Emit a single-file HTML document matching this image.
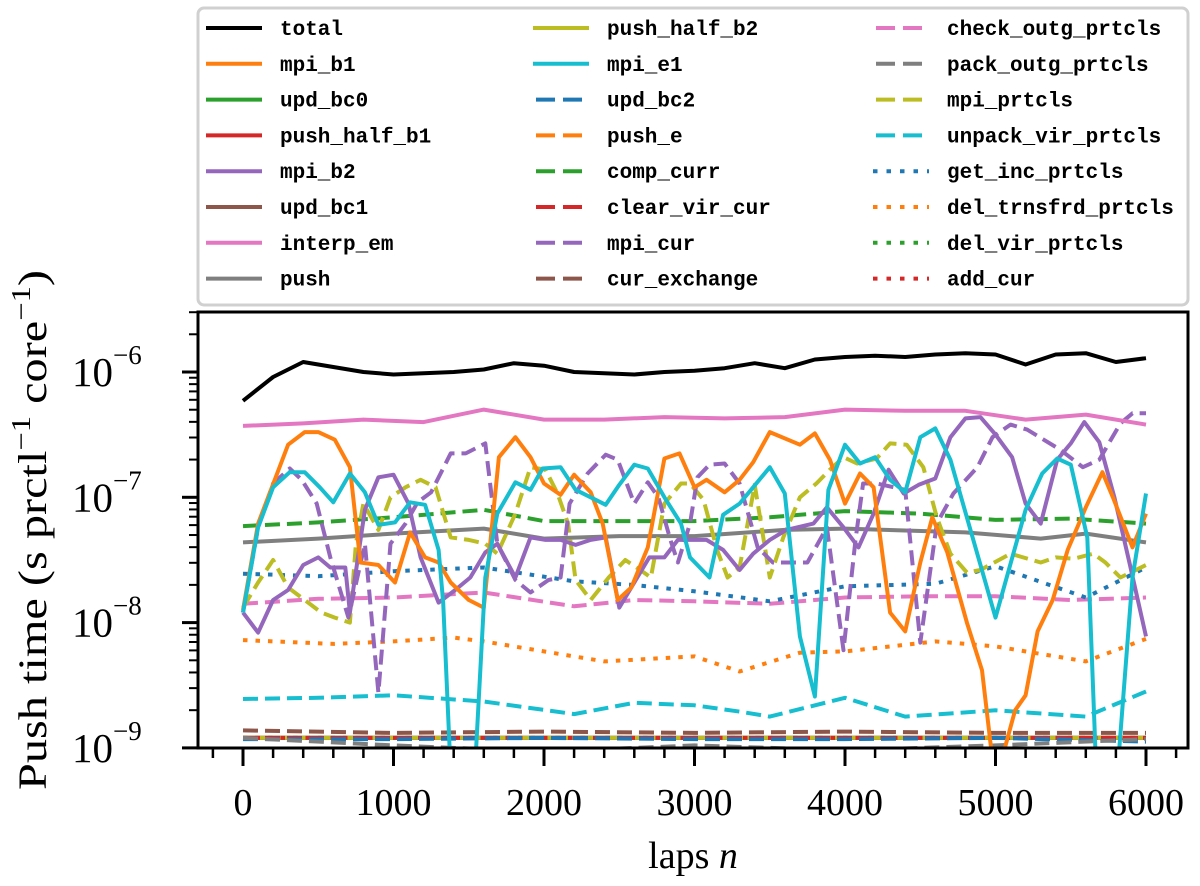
<!DOCTYPE html>
<html><head><meta charset="utf-8"><style>
html,body{margin:0;padding:0;background:#fff;}
svg text{font-family:"Liberation Serif",serif;}
.mono{font-family:"Liberation Mono",monospace;font-weight:bold;font-size:21px;}
</style></head><body>
<svg id="chart" width="1200" height="881" viewBox="0 0 1200 881" xmlns="http://www.w3.org/2000/svg">
<defs><clipPath id="plotclip"><rect x="198" y="312" width="990" height="436"/></clipPath></defs>
<g id="legend"></g>
<g id="series" clip-path="url(#plotclip)"></g>
<rect x="198" y="312" width="990" height="436" fill="none" stroke="#000" stroke-width="3"/>
<g id="axes"></g>
<text x="693" y="868" font-size="38" text-anchor="middle">laps <tspan font-style="italic">n</tspan></text>
<text transform="translate(46,530) rotate(-90)" font-size="40" text-anchor="middle" textLength="520" lengthAdjust="spacingAndGlyphs">Push time (s prctl<tspan dy="-16" font-size="27">−1</tspan><tspan dy="16"> core</tspan><tspan dy="-16" font-size="27">−1</tspan><tspan dy="16">)</tspan></text>
</svg>
<script>
// ---- data (log10 of push time) ----
const xTicks = [0,1000,2000,3000,4000,5000,6000];
const yTicks = [-9,-8,-7,-6];
const totalLaps = [0,200,400,600,800,1000,1200,1400,1600,1800,2000,2200,2400,2600,2800,3000,3200,3400,3600,3800,4000,4200,4400,4600,4800,5000,5200,5400,5600,5800,6000];
const totalVals = [-6.23,-6.04,-5.92,-5.96,-6.0,-6.02,-6.01,-6.0,-5.98,-5.93,-5.95,-6.0,-6.01,-6.02,-6.0,-5.99,-5.97,-5.93,-5.97,-5.9,-5.88,-5.87,-5.88,-5.86,-5.85,-5.86,-5.94,-5.86,-5.85,-5.92,-5.89];
const interpLaps = [0,400,800,1200,1600,2000,2400,2800,3200,3600,4000,4400,4800,5200,5600,6000];
const interpVals = [-6.43,-6.41,-6.38,-6.4,-6.3,-6.38,-6.38,-6.36,-6.37,-6.36,-6.3,-6.31,-6.31,-6.38,-6.34,-6.42];
const pushLaps = [0,500,1000,1600,2000,2500,3000,3600,4000,4800,5300,5600,6000];
const pushVals = [-7.36,-7.33,-7.29,-7.25,-7.33,-7.31,-7.31,-7.26,-7.25,-7.28,-7.33,-7.29,-7.36];
const compLaps = [0,500,1000,1600,2000,2500,3000,3500,4000,4500,5000,5500,6000];
const compVals = [-7.23,-7.2,-7.16,-7.1,-7.19,-7.19,-7.19,-7.16,-7.11,-7.13,-7.18,-7.17,-7.21];
const checkLaps = [0,500,1000,1600,2200,2600,3000,3500,4000,4500,5000,5500,6000];
const checkVals = [-7.85,-7.81,-7.8,-7.76,-7.87,-7.82,-7.83,-7.85,-7.8,-7.79,-7.79,-7.82,-7.8];
const getIncLaps = [0,500,1000,1600,2200,2600,3000,3500,4000,4600,5000,5600,6000];
const getIncVals = [-7.61,-7.63,-7.59,-7.56,-7.67,-7.7,-7.75,-7.83,-7.71,-7.69,-7.55,-7.8,-7.56];
const delTrLaps = [0,600,1000,1400,1600,2000,2400,3000,3300,3700,4000,4600,5000,5600,6000];
const delTrVals = [-8.14,-8.17,-8.15,-8.12,-8.15,-8.23,-8.31,-8.27,-8.39,-8.24,-8.23,-8.15,-8.19,-8.31,-8.13];
const unpackLaps = [0,500,1000,1600,2200,2600,3000,3300,3500,4000,4400,5000,5600,6000];
const unpackVals = [-8.61,-8.6,-8.58,-8.63,-8.73,-8.64,-8.66,-8.71,-8.75,-8.6,-8.75,-8.7,-8.75,-8.55];
const mpiB1Laps = [0,100,300,410,500,610,710,780,900,1010,1110,1210,1300,1380,1500,1600,1700,1810,1910,2000,2110,2200,2310,2390,2490,2580,2690,2800,2900,3000,3080,3200,3300,3390,3500,3700,3800,3900,4000,4100,4190,4300,4400,4500,4580,4680,4810,4910,4980,5040,5130,5200,5280,5380,5480,5600,5710,5780,5910,6000];
const mpiB1Vals = [-7.9,-7.21,-6.58,-6.48,-6.48,-6.54,-6.76,-7.52,-7.54,-7.68,-7.28,-7.48,-7.52,-7.68,-7.82,-7.88,-6.68,-6.52,-6.68,-6.89,-6.98,-6.82,-6.96,-7.21,-7.82,-7.72,-7.4,-6.69,-6.65,-6.92,-6.86,-6.96,-6.86,-6.72,-6.48,-6.58,-6.49,-6.7,-7.05,-6.81,-6.92,-7.92,-8.07,-7.52,-7.16,-7.44,-8.0,-8.38,-9.1,-9.1,-8.7,-8.58,-8.07,-7.82,-7.42,-7.08,-6.8,-7.0,-7.4,-7.13];
const mpiE1Laps = [0,100,200,310,410,510,600,710,810,900,1010,1110,1210,1300,1330,1380,1540,1610,1690,1810,1910,1990,2110,2210,2410,2500,2600,2690,2800,2910,2970,3100,3190,3300,3500,3600,3700,3800,3890,4000,4100,4200,4300,4400,4500,4600,4700,5000,5200,5310,5410,5500,5610,5670,5810,5910,6000];
const mpiE1Vals = [-7.92,-7.24,-6.92,-6.8,-6.8,-6.92,-7.04,-6.81,-6.96,-7.22,-7.2,-7.04,-7.06,-7.42,-7.84,-9.2,-9.2,-7.64,-7.13,-6.88,-6.94,-6.77,-6.76,-6.94,-7.06,-6.9,-6.74,-6.77,-7.0,-7.21,-7.48,-7.64,-7.14,-7.05,-6.76,-6.97,-8.11,-8.59,-6.94,-6.58,-6.73,-6.68,-6.86,-6.96,-6.52,-6.45,-6.7,-7.96,-7.1,-6.81,-6.69,-6.74,-7.32,-9.2,-9.2,-7.64,-6.97];
const mpiB2Laps = [0,100,200,300,400,500,580,680,710,810,900,1000,1100,1180,1300,1410,1510,1610,1690,1810,1910,2010,2110,2210,2310,2410,2500,2600,2700,2800,2890,2980,3080,3190,3300,3390,3500,3610,3790,3880,3990,4090,4190,4290,4390,4490,4600,4700,4800,4900,5000,5110,5200,5300,5410,5500,5590,5690,5790,5890,6000];
const mpiB2Vals = [-7.92,-8.08,-7.82,-7.74,-7.54,-7.48,-7.56,-7.56,-7.92,-7.1,-6.84,-6.82,-7.05,-7.48,-7.84,-7.74,-7.64,-7.44,-7.37,-7.64,-7.32,-7.34,-7.34,-7.38,-7.34,-7.32,-7.88,-7.68,-7.48,-7.48,-7.34,-7.34,-7.34,-7.42,-7.58,-7.45,-7.34,-7.26,-7.21,-7.08,-7.24,-7.4,-7.13,-6.78,-6.97,-6.9,-6.85,-6.52,-6.37,-6.36,-6.5,-6.68,-7.05,-7.21,-6.7,-6.57,-6.4,-6.56,-7.0,-7.52,-8.11];
const mpiCurLaps = [0,100,200,310,390,490,580,700,810,900,980,1080,1160,1250,1380,1480,1610,1690,1810,1910,2030,2110,2170,2290,2410,2490,2600,2690,2760,2840,2890,2970,3020,3100,3200,3300,3420,3520,3630,3750,3880,3990,4070,4120,4210,4400,4500,4610,4720,4880,4980,5100,5210,5320,5430,5580,5690,5830,5910,6000];
const mpiCurVals = [-7.92,-7.24,-6.89,-6.77,-6.86,-7.05,-7.48,-7.96,-7.37,-8.56,-7.37,-7.21,-7.04,-6.96,-6.65,-6.65,-6.57,-7.37,-7.66,-7.76,-7.66,-7.64,-7.05,-6.81,-6.66,-6.7,-7.05,-6.88,-7.0,-7.34,-7.52,-7.21,-6.84,-6.74,-6.73,-6.89,-7.4,-7.52,-7.52,-7.52,-7.24,-8.22,-7.34,-6.89,-6.89,-6.94,-8.16,-7.21,-6.97,-6.76,-6.52,-6.42,-6.46,-6.54,-6.62,-6.76,-6.7,-6.41,-6.33,-6.33];
const mpiPrLaps = [0,100,200,300,410,520,610,710,750,800,900,980,1080,1180,1280,1380,1500,1610,1690,1810,1910,2010,2090,2160,2210,2310,2430,2540,2640,2710,2800,2910,2970,3060,3150,3220,3300,3400,3500,3590,3700,3810,3900,3990,4080,4210,4300,4410,4520,4610,4700,4810,4900,5100,5300,5400,5520,5650,5730,5830,6000];
const mpiPrVals = [-7.88,-7.68,-7.5,-7.72,-7.82,-7.92,-7.96,-8.0,-7.37,-7.05,-7.26,-7.0,-6.92,-6.86,-6.92,-7.32,-7.34,-7.37,-7.45,-7.13,-6.76,-6.78,-6.97,-7.21,-7.66,-7.82,-7.64,-7.5,-7.58,-7.64,-7.05,-6.89,-6.89,-7.02,-7.42,-7.64,-7.56,-6.9,-7.64,-7.32,-7.0,-6.89,-6.78,-6.68,-6.73,-6.69,-6.57,-6.58,-6.76,-7.16,-7.45,-7.6,-7.58,-7.45,-7.52,-7.48,-7.49,-7.45,-7.52,-7.64,-7.54];
const lowLaps = [0,1000,2000,3000,4000,5000,6000];
const curExVals = [-8.86,-8.88,-8.87,-8.88,-8.87,-8.88,-8.88];
const updBc2Vals = [-8.93,-8.93,-8.92,-8.93,-8.93,-8.92,-8.95];
const packVals = [-8.92,-8.98,-9.03,-8.98,-9.02,-8.98,-8.93];
const flatVals = [-8.92,-8.92,-8.92,-8.92,-8.92,-8.92,-8.92];

// ---- axes functions ----
const X0=243, XPX=(1146-243)/6000, Y6=372, DEC=125.3;
const sx = l => X0 + l*XPX;
const sy = e => Y6 - (e+6)*DEC;
const NS="http://www.w3.org/2000/svg";
function mk(tag, attrs, parent){const el=document.createElementNS(NS,tag);for(const k in attrs)el.setAttribute(k,attrs[k]);parent.appendChild(el);return el;}

const C={blue:"#1f77b4",orange:"#ff7f0e",green:"#2ca02c",red:"#d62728",purple:"#9467bd",brown:"#8c564b",pink:"#e377c2",gray:"#7f7f7f",olive:"#bcbd22",cyan:"#17becf"};
const DASH="15,7", DOT="4.5,8";
const seriesDefs = [
 ["upd_bc0",lowLaps,flatVals,C.green,null],
 ["upd_bc1",lowLaps,flatVals,C.brown,null],
 ["push_half_b1",lowLaps,flatVals,C.red,null],
 ["push_half_b2",lowLaps,flatVals,C.olive,null],
 ["push_e",lowLaps,flatVals,C.orange,DASH],
 ["clear_vir_cur",lowLaps,flatVals,C.red,DASH],
 ["del_vir_prtcls",lowLaps,flatVals,C.green,DOT],
 ["add_cur",lowLaps,flatVals,C.red,DOT],
 ["cur_exchange",lowLaps,curExVals,C.brown,DASH],
 ["upd_bc2",lowLaps,updBc2Vals,C.blue,DASH],
 ["pack_outg_prtcls",lowLaps,packVals,C.gray,DASH],
 ["unpack_vir_prtcls",unpackLaps,unpackVals,C.cyan,DASH],
 ["del_trnsfrd_prtcls",delTrLaps,delTrVals,C.orange,DOT],
 ["check_outg_prtcls",checkLaps,checkVals,C.pink,DASH],
 ["get_inc_prtcls",getIncLaps,getIncVals,C.blue,DOT],
 ["push",pushLaps,pushVals,C.gray,null],
 ["comp_curr",compLaps,compVals,C.green,DASH],
 ["mpi_prtcls",mpiPrLaps,mpiPrVals,C.olive,DASH],
 ["mpi_cur",mpiCurLaps,mpiCurVals,C.purple,DASH],
 ["mpi_b2",mpiB2Laps,mpiB2Vals,C.purple,null],
 ["mpi_b1",mpiB1Laps,mpiB1Vals,C.orange,null],
 ["mpi_e1",mpiE1Laps,mpiE1Vals,C.cyan,null],
 ["interp_em",interpLaps,interpVals,C.pink,null],
 ["total",totalLaps,totalVals,"#000",null]
];
const sg=document.getElementById("series");
seriesDefs.forEach(([name,laps,vals,col,dash])=>{
  const d=laps.map((l,i)=>(i?"L":"M")+sx(l).toFixed(1)+","+sy(vals[i]).toFixed(1)).join(" ");
  const p=mk("path",{d:d,fill:"none",stroke:col,"stroke-width":4,"stroke-linejoin":"round"},sg);
  if(dash) p.setAttribute("stroke-dasharray",dash);
  
  
});

// axes ticks
const ax=document.getElementById("axes");
xTicks.forEach(t=>{
  const l=mk("line",{x1:sx(t),x2:sx(t),y1:748,y2:766,stroke:"#000","stroke-width":3},ax);
  
  
  const tx=mk("text",{x:sx(t),y:815,"font-size":38,"text-anchor":"middle"},ax);
  tx.textContent=t;
  
  
});
for(let t=-200;t<=6200;t+=200){
  if(t%1000===0) continue;
  const l=mk("line",{x1:sx(t),x2:sx(t),y1:748,y2:758,stroke:"#000","stroke-width":2.5},ax);
  
  
}
yTicks.forEach(e=>{
  const y=sy(e);
  const l=mk("line",{x1:182,x2:198,y1:y,y2:y,stroke:"#000","stroke-width":3},ax);
  
  
  const tx=mk("text",{x:72,y:y+14,"font-size":41},ax);
  tx.textContent="10";
  const sp=mk("tspan",{dy:-22,"font-size":27},tx);
  sp.textContent="−"+(-e);
  
  
  for(let m=2;m<=9;m++){
    const ey=e+Math.log10(m);
    if(ey>-5.52) break;
    const yy=sy(ey);
    const ml=mk("line",{x1:189,x2:198,y1:yy,y2:yy,stroke:"#000","stroke-width":2},ax);
    
    
  }
});

// legend
const lg=document.getElementById("legend");
const box=mk("rect",{x:198,y:8,width:990,height:297,rx:6,fill:"#fff",stroke:"#d0d0d0","stroke-width":3},lg);


const legendNames=["total","mpi_b1","upd_bc0","push_half_b1","mpi_b2","upd_bc1","interp_em","push",
 "push_half_b2","mpi_e1","upd_bc2","push_e","comp_curr","clear_vir_cur","mpi_cur","cur_exchange",
 "check_outg_prtcls","pack_outg_prtcls","mpi_prtcls","unpack_vir_prtcls","get_inc_prtcls","del_trnsfrd_prtcls","del_vir_prtcls","add_cur"];
const colX=[[206,280],[533,607],[873,947]];
legendNames.forEach((n,i)=>{
  const def=seriesDefs.find(s=>s[0]===n);
  const c=Math.floor(i/8), r=i%8;
  const y=28+r*35.8;
  const [hx,tx0]=colX[c];
  const g=mk("g",{},lg);
  
  
  const ln=mk("line",{x1:hx,x2:hx+56,y1:y,y2:y,stroke:def[3],"stroke-width":4},g);
  if(def[4]) ln.setAttribute("stroke-dasharray",def[4]===DASH?"19,8":"4.5,9");
  if(def[4]===DASH){ln.setAttribute("x1",hx+3);ln.setAttribute("x2",hx+49);}
  const t=mk("text",{x:tx0,y:y+7,class:"mono"},g);
  t.textContent=n;
});
</script>
</body></html>
